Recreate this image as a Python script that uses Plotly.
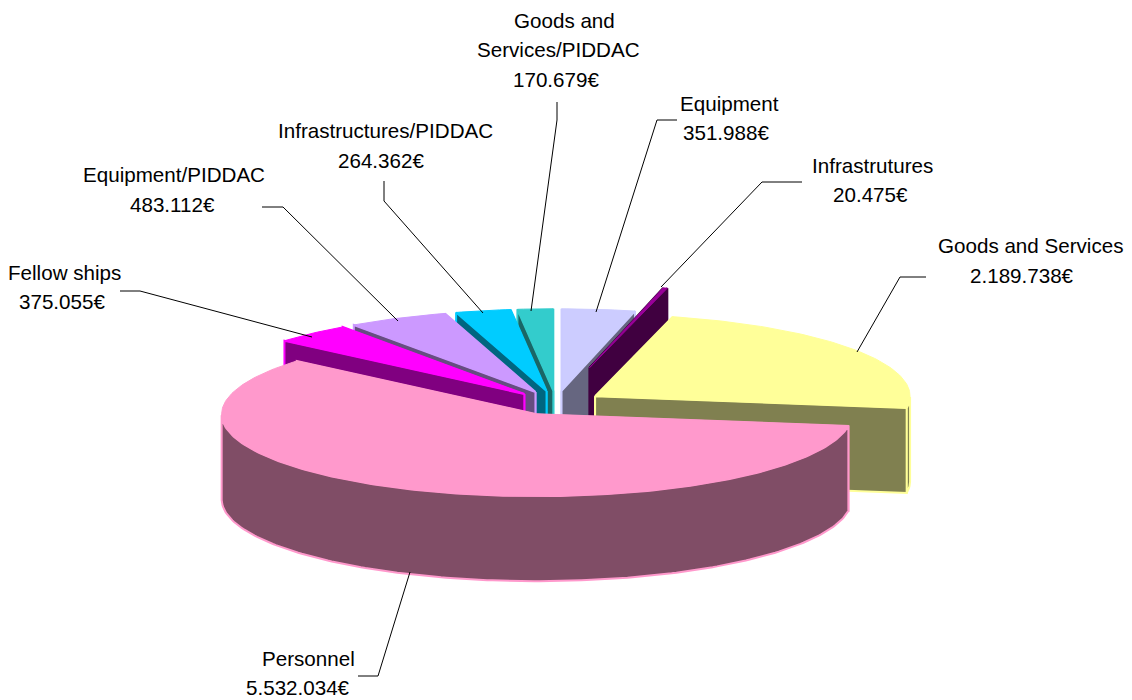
import math
import plotly.graph_objects as go

# Data, clockwise from 12 o'clock
names = ["Equipment", "Infrastrutures", "Goods and Services", "Personnel", "Fellow ships",
         "Equipment/PIDDAC", "Infrastructures/PIDDAC", "Goods and Services/PIDDAC"]
values = [351988, 20475, 2189738, 5532034, 375055, 483112, 264362, 170679]
top_colors = ["#CCCCFF", "#990099", "#FFFF99", "#FF99CC", "#FF00FF", "#CC99FF", "#00CCFF", "#33CCCC"]
side_colors = ["#666680", "#400040", "#808050", "#804D66", "#800080", "#664D80", "#006680", "#1A6666"]
edge_colors = ["#CCCCFF", "#400040", "#FFFF99", "#FF99CC", "#FF00FF", "#CC99FF", "#00CCFF", "#33CCCC"]
explode = [47, 140, 47, 47, 47, 47, 47, 47]

# Painter's order (back to front)
draw_order = [7, 6, 5, 4, 0, 1, 2, 3]

# Projection of the tilted pie, in axis units (axis = 1132 x 700)
CX, CY, RX, RY, DEPTH = 556, 403, 315, 82, 85

# Label lines: (text, x, y)
label_lines = [
    ("Goods and", 564, 20), ("Services/PIDDAC", 558, 49), ("170.679€", 556, 79),
    ("Equipment", 729, 103), ("351.988€", 726, 132),
    ("Infrastrutures", 872, 165), ("20.475€", 870, 194),
    ("Goods and Services", 1030, 245), ("2.189.738€", 1022, 275),
    ("Infrastructures/PIDDAC", 385, 130), ("264.362€", 381, 160),
    ("Equipment/PIDDAC", 174, 174), ("483.112€", 172, 204),
    ("Fellow ships", 64, 272), ("375.055€", 62, 301),
    ("Personnel", 308, 658), ("5.532.034€", 298, 687),
]

# Leader lines
leaders = [
    [(557, 102), (557, 120), (531, 311)],
    [(677, 120), (657, 120), (596, 312)],
    [(802, 182), (762, 182), (661, 287)],
    [(926, 277), (900, 277), (857, 352)],
    [(384, 181), (384, 201), (483, 313)],
    [(262, 207), (283, 207), (398, 321)],
    [(120, 291), (140, 291), (312, 337)],
    [(358, 676), (378, 676), (410, 572)],
]

total = sum(values)
fig = go.Figure()


def poly(pts, fill, line, width=2):
    xs = [p[0] for p in pts] + [pts[0][0]]
    ys = [p[1] for p in pts] + [pts[0][1]]
    fig.add_trace(go.Scatter(x=xs, y=ys, mode="lines", fill="toself", fillcolor=fill,
                             line=dict(color=line, width=width), hoverinfo="skip", showlegend=False))


angles = []
acc = 0.0
for v in values:
    angles.append((acc / total * 2 * math.pi, (acc + v) / total * 2 * math.pi))
    acc += v

for i in draw_order:
    a0, a1 = angles[i]
    mid = (a0 + a1) / 2
    ax = CX + explode[i] * math.sin(mid)
    ay = CY - explode[i] * RY / RX * math.cos(mid)
    n = max(2, int((a1 - a0) * 60))
    arc = [(ax + RX * math.sin(a0 + (a1 - a0) * t / n),
            ay - RY * math.cos(a0 + (a1 - a0) * t / n)) for t in range(n + 1)]
    down = lambda p: (p[0], p[1] + DEPTH)
    apex = (ax, ay)
    # radial cut faces: the one facing away from the viewer goes first
    start_face = [apex, arc[0], down(arc[0]), down(apex)]
    end_face = [apex, arc[-1], down(arc[-1]), down(apex)]
    faces = [start_face, end_face] if math.sin(mid) > 0 else [end_face, start_face]
    for face in faces:
        poly(face, side_colors[i], edge_colors[i])
    # outer wall: only the part that faces the viewer
    wall = [p for t, p in enumerate(arc)
            if math.cos(a0 + (a1 - a0) * t / n) <= 0.001]
    if len(wall) > 1:
        poly(wall + [down(p) for p in reversed(wall)], side_colors[i], edge_colors[i])
    # top surface
    poly([apex] + arc, top_colors[i], top_colors[i], 1)

shapes = []
for pts in leaders:
    path = "M " + " L ".join(f"{x},{y}" for x, y in pts)
    shapes.append(dict(type="path", path=path, xref="x", yref="y",
                       line=dict(color="#000000", width=1), layer="above"))

annotations = [dict(x=x, y=y, xref="x", yref="y", text=t, showarrow=False,
                    xanchor="center", yanchor="middle",
                    font=dict(family="Liberation Sans, Arial, sans-serif", size=20.6, color="#000000"))
               for t, x, y in label_lines]

fig.update_layout(
    width=1132, height=700,
    margin=dict(l=0, r=0, t=0, b=0),
    paper_bgcolor="#FFFFFF", plot_bgcolor="#FFFFFF",
    xaxis=dict(range=[0, 1132], visible=False, fixedrange=True),
    yaxis=dict(range=[700, 0], visible=False, fixedrange=True),
    shapes=shapes, annotations=annotations, showlegend=False,
)
fig.write_html("out.html", config={"displayModeBar": False},
               post_script="document.body.style.margin='0';document.body.style.overflow='hidden';")
